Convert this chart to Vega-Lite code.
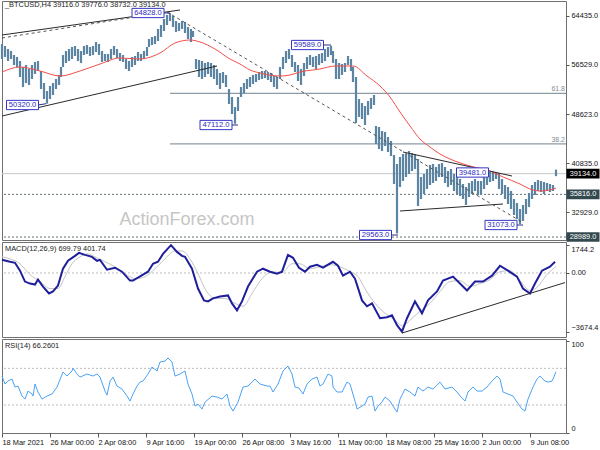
{
"$schema": "https://vega.github.io/schema/vega-lite/v6.json",
"padding": {"left": -3, "top": -1, "right": 0, "bottom": 0},
"autosize": {"type": "pad"},
"spacing": 2,
"bounds": "flush",
"background": "white",
"config": {
  "view": {"stroke": "#707070", "strokeWidth": 1},
  "font": "Liberation Sans",
  "axis": {"labelFont": "Liberation Sans", "labelFontSize": 7.4, "labelColor": "#111111", "tickColor": "#555555", "tickSize": 3, "domain": false, "grid": false, "labelPadding": 2, "labelOverlap": false}
},
"datasets": {
  "bars": [
{"i":0,"h":59875,"l":57475},{"i":3,"h":59555,"l":57795},{"i":6,"h":59075,"l":57155},{"i":9,"h":58755,"l":57475},{"i":12,"h":58115,"l":56515},{"i":15,"h":57795,"l":56195},{"i":18,"h":57155,"l":54595},{"i":21,"h":56195,"l":52995},{"i":24,"h":56515,"l":53635},{"i":27,"h":55875,"l":53315},{"i":30,"h":56515,"l":54275},{"i":33,"h":56995,"l":55075},{"i":36,"h":57155,"l":55555},{"i":39,"h":55555,"l":52675},{"i":42,"h":53635,"l":51075},{"i":45,"h":52355,"l":50320},{"i":48,"h":53155,"l":51075},{"i":51,"h":53635,"l":51715},{"i":54,"h":54275,"l":52675},{"i":57,"h":54915,"l":53315},{"i":59,"h":56195,"l":54595},{"i":61,"h":58115,"l":56195},{"i":64,"h":58755,"l":56835},{"i":67,"h":59075,"l":57155},{"i":70,"h":59395,"l":57475},{"i":73,"h":59555,"l":57955},{"i":76,"h":59075,"l":57155},{"i":79,"h":58755,"l":56835},{"i":82,"h":59555,"l":58115},{"i":85,"h":59715,"l":58275},{"i":88,"h":59395,"l":57955},{"i":91,"h":59555,"l":58115},{"i":94,"h":60195,"l":58595},{"i":97,"h":59875,"l":58115},{"i":100,"h":58755,"l":56995},{"i":103,"h":58275,"l":57155},{"i":106,"h":58275,"l":56995},{"i":109,"h":59075,"l":57475},{"i":112,"h":59555,"l":58115},{"i":115,"h":59075,"l":57635},{"i":118,"h":58435,"l":57155},{"i":121,"h":58115,"l":56995},{"i":124,"h":57475,"l":55875},{"i":127,"h":57155,"l":55555},{"i":130,"h":57795,"l":56195},{"i":133,"h":57955,"l":56515},{"i":136,"h":58595,"l":57155},{"i":139,"h":58275,"l":57155},{"i":142,"h":58755,"l":57475},{"i":145,"h":59395,"l":57955},{"i":147,"h":60675,"l":59395},{"i":150,"h":60995,"l":59715},{"i":153,"h":61155,"l":59875},{"i":156,"h":62275,"l":60355},{"i":159,"h":62915,"l":60995},{"i":162,"h":63875,"l":61955},{"i":165,"h":64515,"l":62915},{"i":168,"h":64828,"l":63555},{"i":171,"h":64355,"l":62595},{"i":174,"h":63555,"l":61795},{"i":177,"h":63235,"l":61955},{"i":180,"h":63555,"l":62275},{"i":183,"h":63395,"l":61635},{"i":186,"h":62595,"l":60675},{"i":189,"h":62275,"l":60195},{"i":191,"h":61955,"l":60995},{"i":194,"h":57475,"l":55875},{"i":197,"h":57315,"l":54595},{"i":200,"h":57155,"l":54275},{"i":203,"h":56835,"l":54595},{"i":206,"h":56995,"l":55075},{"i":209,"h":56835,"l":54595},{"i":212,"h":56515,"l":54275},{"i":215,"h":55875,"l":53315},{"i":218,"h":55235,"l":52675},{"i":221,"h":55395,"l":53635},{"i":224,"h":54915,"l":52995},{"i":227,"h":52675,"l":50275},{"i":230,"h":51395,"l":48675},{"i":233,"h":49795,"l":47112},{"i":236,"h":51395,"l":49155},{"i":239,"h":52995,"l":51395},{"i":242,"h":53635,"l":52035},{"i":245,"h":54275,"l":52675},{"i":248,"h":54595,"l":52995},{"i":251,"h":54915,"l":53475},{"i":254,"h":55075,"l":53795},{"i":257,"h":55395,"l":54115},{"i":260,"h":55555,"l":54275},{"i":263,"h":55555,"l":54435},{"i":266,"h":55395,"l":54115},{"i":269,"h":55235,"l":53795},{"i":272,"h":54755,"l":52995},{"i":275,"h":54595,"l":52675},{"i":278,"h":56195,"l":54275},{"i":281,"h":57795,"l":55875},{"i":284,"h":58755,"l":56835},{"i":287,"h":59075,"l":57475},{"i":290,"h":58115,"l":56195},{"i":293,"h":56995,"l":55395},{"i":296,"h":56515,"l":53955},{"i":299,"h":55875,"l":53315},{"i":302,"h":56835,"l":54755},{"i":305,"h":57795,"l":55875},{"i":308,"h":58115,"l":56515},{"i":311,"h":57795,"l":56195},{"i":314,"h":57955,"l":55875},{"i":317,"h":58275,"l":56515},{"i":320,"h":58435,"l":56835},{"i":323,"h":59075,"l":57155},{"i":326,"h":59395,"l":57795},{"i":329,"h":59589,"l":58115},{"i":331,"h":58755,"l":56835},{"i":334,"h":57475,"l":54275},{"i":337,"h":56835,"l":54275},{"i":340,"h":56675,"l":54915},{"i":343,"h":56835,"l":55395},{"i":346,"h":57955,"l":56515},{"i":349,"h":57475,"l":55555},{"i":351,"h":56195,"l":53795},{"i":354,"h":54595,"l":47235},{"i":357,"h":51075,"l":48195},{"i":360,"h":50435,"l":47875},{"i":363,"h":49955,"l":46915},{"i":366,"h":50755,"l":48515},{"i":369,"h":51235,"l":49475},{"i":372,"h":51715,"l":50115},{"i":374,"h":46755,"l":43875},{"i":377,"h":46595,"l":43075},{"i":380,"h":45955,"l":42755},{"i":383,"h":45795,"l":43555},{"i":386,"h":44995,"l":42595},{"i":389,"h":44355,"l":41955},{"i":392,"h":42115,"l":37475},{"i":395,"h":40675,"l":29563},{"i":398,"h":41795,"l":36995},{"i":401,"h":42275,"l":37955},{"i":404,"h":42275,"l":38595},{"i":407,"h":42755,"l":39075},{"i":410,"h":42435,"l":39555},{"i":413,"h":42275,"l":39875},{"i":416,"h":41475,"l":33955},{"i":419,"h":38595,"l":35075},{"i":422,"h":39075,"l":35875},{"i":425,"h":39875,"l":36675},{"i":428,"h":40515,"l":37315},{"i":431,"h":40675,"l":37635},{"i":434,"h":40195,"l":37955},{"i":437,"h":40675,"l":38595},{"i":440,"h":40835,"l":38595},{"i":443,"h":40195,"l":37635},{"i":446,"h":39555,"l":36995},{"i":449,"h":39875,"l":37315},{"i":452,"h":39075,"l":36355},{"i":455,"h":38595,"l":35875},{"i":458,"h":38275,"l":35555},{"i":461,"h":37475,"l":35075},{"i":464,"h":36995,"l":34115},{"i":467,"h":37635,"l":35395},{"i":470,"h":37955,"l":35875},{"i":473,"h":38275,"l":36355},{"i":476,"h":37955,"l":35715},{"i":479,"h":37955,"l":35875},{"i":482,"h":38595,"l":36675},{"i":485,"h":39075,"l":37315},{"i":488,"h":39395,"l":37795},{"i":491,"h":39481,"l":37955},{"i":494,"h":39400,"l":38275},{"i":497,"h":39235,"l":36675},{"i":500,"h":38275,"l":35875},{"i":503,"h":37315,"l":35075},{"i":506,"h":36995,"l":34275},{"i":509,"h":36355,"l":33475},{"i":512,"h":35075,"l":32515},{"i":515,"h":34435,"l":31875},{"i":518,"h":33475,"l":31073},{"i":521,"h":34115,"l":31555},{"i":524,"h":35075,"l":32675},{"i":527,"h":36035,"l":33795},{"i":530,"h":37315,"l":35075},{"i":533,"h":37795,"l":35715},{"i":536,"h":38115,"l":36355},{"i":539,"h":37955,"l":36195},{"i":542,"h":37795,"l":35875},{"i":545,"h":37635,"l":36355},{"i":548,"h":37475,"l":36195},{"i":551,"h":37315,"l":36355},{"i":554,"h":39776,"l":38732}
  ],
  "ma": [
{"i":0,"p":55395},{"i":18,"p":56195},{"i":38,"p":55555},{"i":58,"p":54755},{"i":78,"p":55555},{"i":98,"p":56675},{"i":118,"p":57635},{"i":138,"p":57475},{"i":158,"p":58435},{"i":173,"p":60035},{"i":188,"p":60515},{"i":198,"p":60195},{"i":213,"p":59075},{"i":228,"p":57475},{"i":238,"p":56675},{"i":248,"p":55715},{"i":258,"p":55235},{"i":278,"p":54755},{"i":288,"p":54915},{"i":298,"p":55395},{"i":318,"p":55875},{"i":333,"p":56355},{"i":351,"p":56355},{"i":365,"p":54755},{"i":378,"p":53155},{"i":388,"p":51395},{"i":398,"p":48995},{"i":408,"p":46755},{"i":418,"p":44675},{"i":428,"p":43395},{"i":438,"p":42275},{"i":448,"p":41475},{"i":468,"p":40355},{"i":488,"p":39555},{"i":501,"p":38595},{"i":518,"p":37475},{"i":528,"p":36675},{"i":538,"p":36355},{"i":548,"p":36515},{"i":554,"p":36835}
  ],
  "levels": [
{"p":39134,"k":"cur"},{"p":35816,"k":"dot"},{"p":28989,"k":"dot"},
{"p":51990,"k":"fib","s":168,"t":"61.8"},{"p":43880,"k":"fib","s":168,"t":"38.2"}
  ],
  "segs": [
{"i":0,"p":61315,"i2":178,"p2":65315,"k":"solid"},
{"i":0,"p":60835,"i2":158,"p2":64835,"k":"dash"},
{"i":0,"p":48355,"i2":215,"p2":56355,"k":"solid"},
{"i":165,"p":64995,"i2":520,"p2":31395,"k":"dash"},
{"i":401,"p":42595,"i2":510,"p2":38755,"k":"solid"},
{"i":398,"p":33155,"i2":501,"p2":34275,"k":"solid"},
{"i":161,"p":64835,"i2":168,"p2":64835,"k":"conn"},
{"i":321,"p":59715,"i2":329,"p2":59715,"k":"conn"},
{"i":36,"p":50115,"i2":44,"p2":50320,"k":"conn"},
{"i":230,"p":46915,"i2":236,"p2":46915,"k":"conn"},
{"i":389,"p":29315,"i2":396,"p2":29315,"k":"conn"},
{"i":515,"p":30915,"i2":521,"p2":30915,"k":"conn"}
  ],
  "tags": [
{"i":146,"p":64835,"t":"64828.0"},{"i":305.5,"p":59715,"t":"59589.0"},{"i":20.5,"p":50115,"t":"50320.0"},{"i":214,"p":46915,"t":"47112.0"},{"i":470.5,"p":39315,"t":"39481.0"},{"i":373.5,"p":29315,"t":"29563.0"},{"i":499,"p":30915,"t":"31073.0"}
  ],
  "pbox": [
{"p":39134,"t":"39134.0","k":"cur"},{"p":35816,"t":"35816.0","k":"lvl"},{"p":28989,"t":"28989.0","k":"lvl"}
  ],
  "notes": [
{"g":"title","i":3,"v":66195,"t":"_BTCUSD,H4  39116.0 39776.0 38732.0 39134.0"},
{"g":"wm","i":185,"v":31715,"t":"ActionForex.com"},
{"g":"macd","i":3,"v":1507,"t":"MACD(12,26,9) 699.79 401.74"},
{"g":"rsi","i":3,"v":94.3,"t":"RSI(14) 66.2601"}
  ],
  "macd": [
{"i":0,"v":825},{"i":8,"v":701},{"i":13,"v":639},{"i":18,"v":143},{"i":23,"v":-539},{"i":28,"v":-663},{"i":33,"v":-725},{"i":36,"v":-415},{"i":41,"v":-849},{"i":47,"v":-1283},{"i":51,"v":-1159},{"i":56,"v":-787},{"i":61,"v":267},{"i":66,"v":763},{"i":73,"v":1073},{"i":77,"v":1259},{"i":83,"v":1135},{"i":90,"v":1011},{"i":95,"v":763},{"i":98,"v":825},{"i":105,"v":205},{"i":113,"v":329},{"i":120,"v":81},{"i":128,"v":-477},{"i":131,"v":-477},{"i":141,"v":-105},{"i":146,"v":81},{"i":151,"v":577},{"i":156,"v":701},{"i":161,"v":1197},{"i":169,"v":1744},{"i":175,"v":1321},{"i":180,"v":1073},{"i":183,"v":1011},{"i":190,"v":267},{"i":196,"v":-973},{"i":202,"v":-1717},{"i":206,"v":-1779},{"i":211,"v":-1593},{"i":218,"v":-1469},{"i":226,"v":-1407},{"i":230,"v":-1903},{"i":235,"v":-2337},{"i":240,"v":-1779},{"i":246,"v":-849},{"i":255,"v":81},{"i":261,"v":267},{"i":268,"v":81},{"i":275,"v":-43},{"i":280,"v":81},{"i":286,"v":1135},{"i":291,"v":949},{"i":297,"v":329},{"i":303,"v":81},{"i":308,"v":391},{"i":315,"v":515},{"i":321,"v":329},{"i":331,"v":701},{"i":336,"v":453},{"i":341,"v":-167},{"i":348,"v":81},{"i":353,"v":-353},{"i":360,"v":-1717},{"i":365,"v":-2089},{"i":370,"v":-1903},{"i":378,"v":-2833},{"i":385,"v":-2771},{"i":390,"v":-2647},{"i":395,"v":-3267},{"i":400,"v":-3674},{"i":405,"v":-2833},{"i":413,"v":-1779},{"i":420,"v":-2523},{"i":426,"v":-1717},{"i":435,"v":-1159},{"i":441,"v":-477},{"i":451,"v":-229},{"i":458,"v":-663},{"i":465,"v":-1097},{"i":473,"v":-539},{"i":481,"v":-539},{"i":490,"v":-167},{"i":498,"v":453},{"i":506,"v":143},{"i":515,"v":-229},{"i":521,"v":-973},{"i":528,"v":-1283},{"i":533,"v":-663},{"i":540,"v":143},{"i":548,"v":391},{"i":553,"v":700}
  ],
  "sig": [
{"i":0,"v":1011},{"i":8,"v":887},{"i":18,"v":577},{"i":28,"v":-105},{"i":38,"v":-539},{"i":48,"v":-973},{"i":56,"v":-973},{"i":63,"v":-229},{"i":70,"v":577},{"i":78,"v":1011},{"i":86,"v":1197},{"i":93,"v":1011},{"i":103,"v":701},{"i":113,"v":391},{"i":123,"v":-43},{"i":133,"v":-353},{"i":143,"v":-229},{"i":153,"v":267},{"i":163,"v":887},{"i":173,"v":1383},{"i":180,"v":1383},{"i":188,"v":887},{"i":196,"v":-43},{"i":204,"v":-1097},{"i":213,"v":-1593},{"i":223,"v":-1593},{"i":233,"v":-1903},{"i":241,"v":-2089},{"i":250,"v":-1283},{"i":260,"v":-353},{"i":270,"v":81},{"i":280,"v":19},{"i":290,"v":577},{"i":298,"v":577},{"i":308,"v":267},{"i":318,"v":391},{"i":328,"v":515},{"i":338,"v":391},{"i":348,"v":81},{"i":356,"v":-229},{"i":364,"v":-1097},{"i":373,"v":-1903},{"i":383,"v":-2523},{"i":393,"v":-2957},{"i":401,"v":-3329},{"i":408,"v":-2957},{"i":418,"v":-2399},{"i":428,"v":-1903},{"i":438,"v":-1159},{"i":448,"v":-539},{"i":458,"v":-477},{"i":468,"v":-849},{"i":478,"v":-663},{"i":488,"v":-415},{"i":498,"v":81},{"i":508,"v":143},{"i":518,"v":-477},{"i":528,"v":-1097},{"i":536,"v":-849},{"i":544,"v":-167},{"i":554,"v":402}
  ],
  "macdTrend": [{"i":400,"v":-3763,"i2":563,"v2":-601}],
  "zero": [{"v":0}],
  "rsiLv": [{"v":70},{"v":30}],
  "rsi": [
{"i":0,"v":61.6},{"i":3,"v":52.9},{"i":6,"v":56.2},{"i":10,"v":58.3},{"i":13,"v":49.6},{"i":16,"v":50.7},{"i":20,"v":39.8},{"i":23,"v":36.5},{"i":26,"v":45.2},{"i":30,"v":42.0},{"i":31,"v":39.8},{"i":33,"v":52.9},{"i":36,"v":44.2},{"i":40,"v":36.5},{"i":45,"v":39.8},{"i":50,"v":42.0},{"i":55,"v":49.6},{"i":61,"v":66.0},{"i":65,"v":61.6},{"i":70,"v":67.1},{"i":71,"v":70.3},{"i":75,"v":63.8},{"i":78,"v":60.5},{"i":85,"v":63.8},{"i":91,"v":61.6},{"i":95,"v":63.8},{"i":98,"v":60.5},{"i":103,"v":45.2},{"i":105,"v":40.9},{"i":108,"v":56.1},{"i":111,"v":60.5},{"i":115,"v":50.7},{"i":120,"v":47.4},{"i":125,"v":39.8},{"i":128,"v":34.3},{"i":131,"v":42.0},{"i":135,"v":50.7},{"i":138,"v":55.0},{"i":141,"v":56.1},{"i":146,"v":63.8},{"i":150,"v":71.4},{"i":155,"v":67.1},{"i":158,"v":76.9},{"i":163,"v":78.0},{"i":166,"v":81.2},{"i":170,"v":76.9},{"i":173,"v":61.6},{"i":178,"v":63.8},{"i":183,"v":67.1},{"i":186,"v":52.9},{"i":190,"v":42.0},{"i":193,"v":28.9},{"i":196,"v":31.1},{"i":200,"v":25.6},{"i":203,"v":33.2},{"i":210,"v":39.8},{"i":215,"v":38.7},{"i":220,"v":36.5},{"i":225,"v":42.0},{"i":228,"v":28.9},{"i":231,"v":23.4},{"i":236,"v":33.2},{"i":241,"v":49.6},{"i":246,"v":50.7},{"i":253,"v":58.3},{"i":258,"v":52.9},{"i":265,"v":50.7},{"i":268,"v":50.7},{"i":271,"v":44.2},{"i":276,"v":52.9},{"i":281,"v":67.1},{"i":286,"v":72.5},{"i":290,"v":63.8},{"i":293,"v":49.6},{"i":297,"v":48.5},{"i":301,"v":42.0},{"i":305,"v":52.9},{"i":310,"v":58.3},{"i":315,"v":60.5},{"i":318,"v":50.7},{"i":321,"v":52.9},{"i":326,"v":63.8},{"i":330,"v":61.6},{"i":331,"v":49.6},{"i":335,"v":44.2},{"i":340,"v":44.2},{"i":345,"v":55.0},{"i":348,"v":52.9},{"i":353,"v":34.3},{"i":355,"v":25.6},{"i":360,"v":28.9},{"i":363,"v":31.1},{"i":366,"v":38.7},{"i":370,"v":39.8},{"i":373,"v":23.4},{"i":376,"v":28.9},{"i":380,"v":33.2},{"i":383,"v":38.7},{"i":388,"v":34.3},{"i":391,"v":28.9},{"i":395,"v":22.3},{"i":398,"v":36.5},{"i":403,"v":47.4},{"i":408,"v":44.2},{"i":413,"v":39.8},{"i":416,"v":49.6},{"i":421,"v":45.2},{"i":426,"v":49.6},{"i":431,"v":47.4},{"i":438,"v":55.0},{"i":443,"v":47.4},{"i":450,"v":49.6},{"i":455,"v":44.2},{"i":458,"v":39.8},{"i":463,"v":34.3},{"i":466,"v":44.2},{"i":471,"v":49.6},{"i":475,"v":45.2},{"i":480,"v":45.2},{"i":485,"v":49.6},{"i":490,"v":56.1},{"i":495,"v":61.6},{"i":498,"v":58.3},{"i":501,"v":44.2},{"i":506,"v":42.0},{"i":511,"v":39.8},{"i":515,"v":33.2},{"i":520,"v":25.6},{"i":523,"v":23.4},{"i":526,"v":36.5},{"i":531,"v":49.6},{"i":535,"v":58.3},{"i":538,"v":61.6},{"i":543,"v":56.1},{"i":546,"v":55.0},{"i":550,"v":56.1},{"i":551,"v":58.3},{"i":554,"v":66.3}
  ]
},
"vconcat": [
{
  "width": 564, "height": 239,
  "layer": [
    {"data": {"name": "levels"}, "transform": [{"filter": "datum.k == 'cur'"}],
     "mark": {"type": "rule", "color": "#c8c8c8", "strokeWidth": 1},
     "encoding": {"y": {"field": "p", "type": "quantitative", "scale": {"domain": [28515, 66755], "nice": false, "zero": false},
                        "axis": {"orient": "right", "title": null, "values": [64435, 60423, 56529, 52635, 48623, 44729, 40835, 36823, 32929], "format": ".1f"}}}},
    {"data": {"name": "levels"}, "transform": [{"filter": "datum.k == 'dot'"}],
     "mark": {"type": "rule", "color": "#5f6f78", "strokeWidth": 1, "strokeDash": [2, 2]},
     "encoding": {"y": {"field": "p", "type": "quantitative"}}},
    {"data": {"name": "levels"}, "transform": [{"filter": "datum.k == 'fib'"}],
     "mark": {"type": "rule", "color": "#8d9ba5", "strokeWidth": 1.3},
     "encoding": {"x": {"field": "s", "type": "quantitative", "scale": {"domain": [0, 564], "nice": false, "zero": false}, "axis": null},
                  "x2": {"datum": 564},
                  "y": {"field": "p", "type": "quantitative"}}},
    {"data": {"name": "bars"},
     "mark": {"type": "rule", "color": "#5b85a2", "strokeWidth": 2.2},
     "encoding": {"x": {"field": "i", "type": "quantitative"},
                  "y": {"field": "l", "type": "quantitative"},
                  "y2": {"field": "h"}}},
    {"data": {"name": "ma"},
     "mark": {"type": "line", "color": "#f2504b", "strokeWidth": 1, "interpolate": "monotone"},
     "encoding": {"x": {"field": "i", "type": "quantitative"},
                  "y": {"field": "p", "type": "quantitative"}}},
    {"data": {"name": "segs"}, "transform": [{"filter": "datum.k == 'solid'"}],
     "mark": {"type": "rule", "color": "#2a2a2a", "strokeWidth": 1},
     "encoding": {"x": {"field": "i", "type": "quantitative"}, "x2": {"field": "i2"},
                  "y": {"field": "p", "type": "quantitative"}, "y2": {"field": "p2"}}},
    {"data": {"name": "segs"}, "transform": [{"filter": "datum.k == 'dash'"}],
     "mark": {"type": "rule", "color": "#555555", "strokeWidth": 1, "strokeDash": [3, 3]},
     "encoding": {"x": {"field": "i", "type": "quantitative"}, "x2": {"field": "i2"},
                  "y": {"field": "p", "type": "quantitative"}, "y2": {"field": "p2"}}},
    {"data": {"name": "segs"}, "transform": [{"filter": "datum.k == 'conn'"}],
     "mark": {"type": "rule", "color": "#2b2b80", "strokeWidth": 1},
     "encoding": {"x": {"field": "i", "type": "quantitative"}, "x2": {"field": "i2"},
                  "y": {"field": "p", "type": "quantitative"}, "y2": {"field": "p2"}}},
    {"data": {"name": "tags"},
     "mark": {"type": "point", "shape": "M-1,-0.29H1V0.29H-1Z", "size": 1024, "filled": true, "fill": "#ffffff", "stroke": "#3535c8", "strokeWidth": 1, "opacity": 1},
     "encoding": {"x": {"field": "i", "type": "quantitative"},
                  "y": {"field": "p", "type": "quantitative"}}},
    {"data": {"name": "tags"},
     "mark": {"type": "text", "color": "#2a2ac0", "fontSize": 7.6, "align": "center", "baseline": "middle", "font": "Liberation Sans"},
     "encoding": {"x": {"field": "i", "type": "quantitative"},
                  "y": {"field": "p", "type": "quantitative"},
                  "text": {"field": "t"}}},
    {"data": {"name": "levels"}, "transform": [{"filter": "datum.k == 'fib'"}],
     "mark": {"type": "text", "color": "#7f8d96", "fontSize": 7, "align": "right", "baseline": "bottom", "dy": -1, "font": "Liberation Sans"},
     "encoding": {"x": {"datum": 563, "type": "quantitative"},
                  "y": {"field": "p", "type": "quantitative"},
                  "text": {"field": "t"}}},
    {"data": {"name": "notes"}, "transform": [{"filter": "datum.g == 'wm'"}],
     "mark": {"type": "text", "color": "#c6c6c6", "fontSize": 18, "align": "center", "baseline": "middle", "font": "Liberation Sans"},
     "encoding": {"x": {"field": "i", "type": "quantitative"},
                  "y": {"field": "v", "type": "quantitative"},
                  "text": {"field": "t"}}},
    {"data": {"name": "notes"}, "transform": [{"filter": "datum.g == 'title'"}],
     "mark": {"type": "text", "color": "#222222", "fontSize": 7.4, "align": "left", "baseline": "middle", "font": "Liberation Sans"},
     "encoding": {"x": {"field": "i", "type": "quantitative"},
                  "y": {"field": "v", "type": "quantitative"},
                  "text": {"field": "t"}}},
    {"data": {"name": "pbox"},
     "mark": {"type": "point", "shape": "M-1,-0.29H1V0.29H-1Z", "size": 1089, "filled": true, "opacity": 1, "strokeWidth": 0},
     "encoding": {"x": {"datum": 581, "type": "quantitative"},
                  "y": {"field": "p", "type": "quantitative"},
                  "fill": {"condition": {"test": "datum.k == 'cur'", "value": "#000000"}, "value": "#33494f"}}},
    {"data": {"name": "pbox"},
     "mark": {"type": "text", "color": "#ffffff", "fontSize": 7.4, "align": "center", "baseline": "middle", "font": "Liberation Sans"},
     "encoding": {"x": {"datum": 581, "type": "quantitative"},
                  "y": {"field": "p", "type": "quantitative"},
                  "text": {"field": "t"}}}
  ]
},
{
  "width": 564, "height": 95,
  "layer": [
    {"data": {"name": "zero"},
     "mark": {"type": "rule", "color": "#bdbdbd", "strokeWidth": 1, "strokeDash": [2, 2]},
     "encoding": {"y": {"field": "v", "type": "quantitative", "scale": {"domain": [-4011, 1941], "nice": false, "zero": false},
                        "axis": {"orient": "right", "title": null, "values": [1744.2, 0, -3674.4], "labelFlush": 8, "labelExpr": "datum.value == 0 ? '0.00' : format(datum.value, '.1f')"}}}},
    {"data": {"name": "sig"},
     "mark": {"type": "line", "color": "#c4c4c4", "strokeWidth": 1, "interpolate": "monotone"},
     "encoding": {"x": {"field": "i", "type": "quantitative", "scale": {"domain": [0, 564], "nice": false, "zero": false}, "axis": null},
                  "y": {"field": "v", "type": "quantitative"}}},
    {"data": {"name": "macd"},
     "mark": {"type": "line", "color": "#1f1f9c", "strokeWidth": 2},
     "encoding": {"x": {"field": "i", "type": "quantitative"},
                  "y": {"field": "v", "type": "quantitative"}}},
    {"data": {"name": "macdTrend"},
     "mark": {"type": "rule", "color": "#2a2a2a", "strokeWidth": 1},
     "encoding": {"x": {"field": "i", "type": "quantitative"}, "x2": {"field": "i2"},
                  "y": {"field": "v", "type": "quantitative"}, "y2": {"field": "v2"}}},
    {"data": {"name": "notes"}, "transform": [{"filter": "datum.g == 'macd'"}],
     "mark": {"type": "text", "color": "#222222", "fontSize": 7.4, "align": "left", "baseline": "middle", "font": "Liberation Sans"},
     "encoding": {"x": {"field": "i", "type": "quantitative"},
                  "y": {"field": "v", "type": "quantitative"},
                  "text": {"field": "t"}}}
  ]
},
{
  "width": 564, "height": 94,
  "layer": [
    {"data": {"name": "rsiLv"},
     "mark": {"type": "rule", "color": "#bdbdbd", "strokeWidth": 1, "strokeDash": [2, 2]},
     "encoding": {"y": {"field": "v", "type": "quantitative", "scale": {"domain": [-0.5, 102], "nice": false, "zero": false},
                        "axis": {"orient": "right", "title": null, "values": [0, 30, 70, 100], "format": "d", "labelFlush": 4}}}},
    {"data": {"name": "rsi"},
     "mark": {"type": "line", "color": "#4ba3f5", "strokeWidth": 1},
     "encoding": {"x": {"field": "i", "type": "quantitative", "scale": {"domain": [0, 564], "nice": false, "zero": false},
                        "axis": {"orient": "bottom", "title": null, "values": [0, 48, 96, 144, 192, 240, 288, 336, 384, 432, 480, 528], "labelAlign": "left", "labelBaseline": "top", "tickSize": 4, "labelPadding": 1, "labelFlush": false, "labelOverlap": false,
                                 "labelExpr": "datum.value == 0 ? '18 Mar 2021' : datum.value == 48 ? '26 Mar 00:00' : datum.value == 96 ? '2 Apr 08:00' : datum.value == 144 ? '9 Apr 16:00' : datum.value == 192 ? '19 Apr 00:00' : datum.value == 240 ? '26 Apr 08:00' : datum.value == 288 ? '3 May 16:00' : datum.value == 336 ? '11 May 00:00' : datum.value == 384 ? '18 May 08:00' : datum.value == 432 ? '25 May 16:00' : datum.value == 480 ? '2 Jun 00:00' : '9 Jun 08:00'"}},
                  "y": {"field": "v", "type": "quantitative"}}},
    {"data": {"name": "notes"}, "transform": [{"filter": "datum.g == 'rsi'"}],
     "mark": {"type": "text", "color": "#222222", "fontSize": 7.4, "align": "left", "baseline": "middle", "font": "Liberation Sans"},
     "encoding": {"x": {"field": "i", "type": "quantitative"},
                  "y": {"field": "v", "type": "quantitative"},
                  "text": {"field": "t"}}}
  ]
}
]
}
